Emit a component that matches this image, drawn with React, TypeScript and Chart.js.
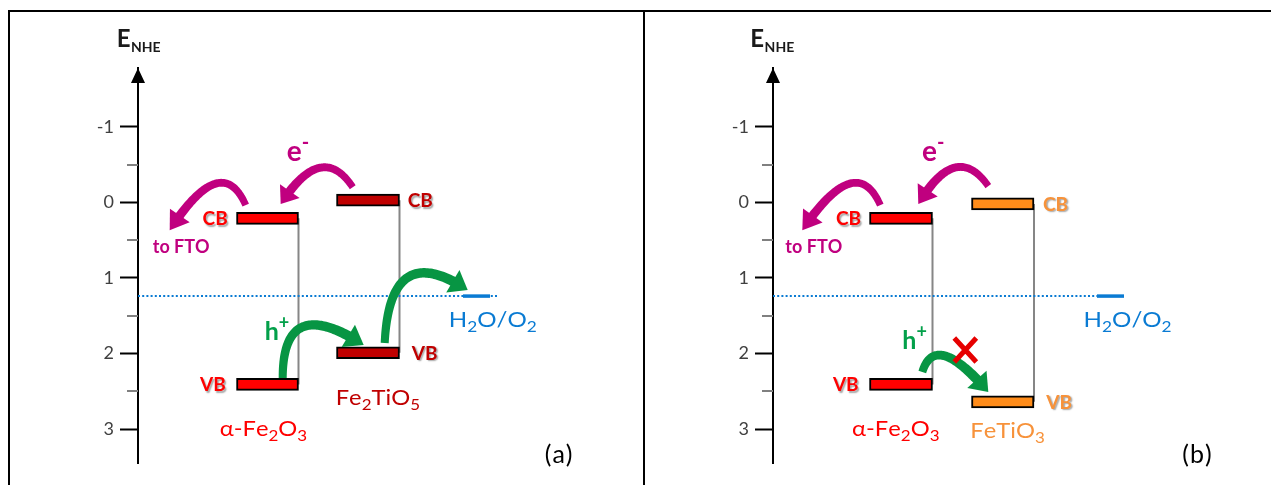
import React, { useEffect, useRef } from "react";
import { Chart, registerables } from "chart.js";
Chart.register(...registerables);

// ---------------- data (energy vs NHE, V; positive values plotted downward) ----------------
const tickValues = [-1, 0, 1, 2, 3];
const tickLabels = ["-1", "0", "1", "2", "3"];
const minorTickValues = [-0.5, 0.5, 1.5, 2.5];
const axisMin = -1.78;
const axisMax = 3.45;
const waterLevel = 1.24;
const waterLabel = "H2O/O2";

const materialsA = ["α-Fe2O3", "Fe2TiO5"];
const cbA = [0.21, -0.03];
const vbA = [2.41, 1.99];

const materialsB = ["α-Fe2O3", "FeTiO3"];
const cbB = [0.21, 0.02];
const vbB = [2.41, 2.64];

// ---------------- layout / style ----------------
const FONT = "Lato, 'Open Sans', sans-serif";
const AXIS_W = 128;
const CANVAS_H = 473;
const MAGENTA = "#c0007f";
const GREEN = "#079543";
const GREEN_TXT = "#03a04a";
const BLUE = "#0a7bd3";

type Pt = [number, number];
interface ArrowSpec { p0: Pt; c: Pt; p1: Pt; color: string; w0: number; w1: number; hl: number; hw: number; }
interface PanelLayout {
  left: number; width: number;
  materials: string[]; cb: number[]; vb: number[];
  cols: number[][]; fills: string[]; textColors: string[];
  cbLabelX: number[]; vbLabelX: number[];
  matLabels: Pt[];
  waterDots: number[]; waterSeg: number[]; waterText: Pt;
  toFTO: Pt; eLabel: Pt; hLabel: Pt; tag: string; tagPos: Pt; title: Pt;
  arrows: ArrowSpec[]; cross?: Pt;
}

const mag = (p0: Pt, c: Pt, p1: Pt): ArrowSpec => ({ p0, c, p1, color: MAGENTA, w0: 7, w1: 9, hl: 14, hw: 12 });
const grn = (p0: Pt, c: Pt, p1: Pt): ArrowSpec => ({ p0, c, p1, color: GREEN, w0: 8, w1: 10, hl: 15, hw: 13 });

const PANEL_A: PanelLayout = {
  left: 10, width: 633,
  materials: materialsA, cb: cbA, vb: vbA,
  cols: [[98.5, 160.5], [198.5, 261.5]],
  fills: ["#ff0000", "#c00000"], textColors: ["#ff0000", "#c00000"],
  cbLabelX: [89.7, 269.7], vbLabelX: [87.7, 273.7],
  matLabels: [[81.7, 3.092], [197.7, 2.682]],
  waterDots: [0, 359], waterSeg: [325, 352], waterText: [310.7, 1.65],
  toFTO: [14.7, 0.667], eLabel: [148.7, -0.55], hLabel: [126.7, 1.82],
  tag: "(a)", tagPos: [406.7, 3.45], title: [-21.3, -2.055],
  arrows: [
    mag([107.7, 0.036], [83.7, -0.692], [31.7, 0.367]),
    mag([214.7, -0.202], [183.7, -0.824], [142.7, 0.022]),
    grn([144.7, 2.325], [144.7, 1.187], [225.7, 1.888]),
    grn([246.7, 1.862], [251.7, 0.472], [329.7, 1.16]),
  ],
};

const PANEL_B: PanelLayout = {
  left: 645, width: 626,
  materials: materialsB, cb: cbB, vb: vbB,
  cols: [[96.5, 159.5], [198.5, 261]],
  fills: ["#ff0000", "#ff8c1a"], textColors: ["#ff0000", "#f7923a"],
  cbLabelX: [88, 270], vbLabelX: [85.6, 273.3],
  matLabels: [[79, 3.092], [197.3, 3.123]],
  waterDots: [0, 324], waterSeg: [324, 351], waterText: [310.6, 1.65],
  toFTO: [12.3, 0.667], eLabel: [149, -0.55], hLabel: [129.3, 1.94],
  tag: "(b)", tagPos: [409.3, 3.45], title: [-22.7, -2.055],
  arrows: [
    mag([107.3, 0.036], [83.3, -0.692], [29.3, 0.367]),
    mag([215.3, -0.216], [183.3, -0.824], [145.3, 0.022]),
    grn([149.3, 2.245], [162.3, 1.69], [215.3, 2.51]),
  ],
  cross: [192.3, 1.954],
};

// ---------------- drawing helpers ----------------
type Seg = { t: string; sub?: boolean; sup?: boolean };
function chemSegs(s: string): Seg[] {
  const out: Seg[] = [];
  for (const ch of s) {
    const sub = /[0-9]/.test(ch);
    const last = out[out.length - 1];
    if (last && !!last.sub === sub) last.t += ch;
    else out.push({ t: ch, sub });
  }
  return out;
}

function drawRich(
  ctx: CanvasRenderingContext2D, segs: Seg[], x: number, y: number, size: number, weight: string, color: string,
  align: "left" | "right" = "left", shadow = false, spacing = 0, stretch = 1,
) {
  const small = Math.round(size * 0.7);
  const fontOf = (s: Seg) => `${weight} ${s.sub || s.sup ? small : size}px ${FONT}`;
  const chars: { ch: string; seg: Seg; w: number }[] = [];
  segs.forEach((s) => {
    ctx.font = fontOf(s);
    for (const ch of s.t) chars.push({ ch, seg: s, w: ctx.measureText(ch).width });
  });
  const natural = chars.reduce((a, c) => a + c.w, 0) + spacing * Math.max(0, chars.length - 1);
  const total = natural * stretch;
  const x0 = align === "right" ? x - total : x;
  ctx.save();
  ctx.translate(x0, y);
  ctx.scale(stretch, 1);
  ctx.fillStyle = color;
  ctx.textBaseline = "alphabetic";
  ctx.textAlign = "left";
  if (shadow) {
    ctx.shadowColor = "rgba(0,0,0,0.35)";
    ctx.shadowOffsetX = 1.5; ctx.shadowOffsetY = 1.5; ctx.shadowBlur = 1.5;
  }
  let cx = 0;
  chars.forEach((c) => {
    ctx.font = fontOf(c.seg);
    const dy = c.seg.sub ? size * 0.22 : c.seg.sup ? -size * 0.42 : 0;
    ctx.fillText(c.ch, cx, dy);
    cx += c.w + spacing;
  });
  ctx.restore();
}

function drawCurvedArrow(ctx: CanvasRenderingContext2D, p0: number[], c: number[], p1: number[], a: ArrowSpec) {
  const N = 80;
  const pts: number[][] = [];
  for (let i = 0; i <= N; i++) {
    const t = i / N, u = 1 - t;
    pts.push([u * u * p0[0] + 2 * u * t * c[0] + t * t * p1[0], u * u * p0[1] + 2 * u * t * c[1] + t * t * p1[1]]);
  }
  const L = [0];
  for (let i = 1; i <= N; i++) L.push(L[i - 1] + Math.hypot(pts[i][0] - pts[i - 1][0], pts[i][1] - pts[i - 1][1]));
  const total = L[N];
  let k = N;
  while (k > 1 && total - L[k] < a.hl) k--;
  const left: number[][] = [], right: number[][] = [];
  for (let i = 0; i <= k; i++) {
    const a0 = pts[Math.max(0, i - 1)], a1 = pts[Math.min(N, i + 1)];
    let tx = a1[0] - a0[0], ty = a1[1] - a0[1];
    const m = Math.hypot(tx, ty) || 1; tx /= m; ty /= m;
    const w = a.w0 + (a.w1 - a.w0) * (L[i] / L[k]);
    left.push([pts[i][0] - ty * w / 2, pts[i][1] + tx * w / 2]);
    right.push([pts[i][0] + ty * w / 2, pts[i][1] - tx * w / 2]);
  }
  ctx.save();
  ctx.fillStyle = a.color;
  ctx.beginPath();
  ctx.moveTo(left[0][0], left[0][1]);
  left.forEach((p) => ctx.lineTo(p[0], p[1]));
  for (let i = right.length - 1; i >= 0; i--) ctx.lineTo(right[i][0], right[i][1]);
  ctx.closePath();
  ctx.fill();
  const base = pts[Math.max(0, k - 1)];
  let dx = p1[0] - base[0], dy = p1[1] - base[1];
  const m = Math.hypot(dx, dy) || 1; dx /= m; dy /= m;
  ctx.beginPath();
  ctx.moveTo(p1[0], p1[1]);
  ctx.lineTo(base[0] - dy * a.hw, base[1] + dx * a.hw);
  ctx.lineTo(base[0] + dy * a.hw, base[1] - dx * a.hw);
  ctx.closePath();
  ctx.fill();
  ctx.restore();
}

function makePlugin(P: PanelLayout) {
  return {
    id: "bandDiagram",
    afterDraw(chart: any) {
      const ctx: CanvasRenderingContext2D = chart.ctx;
      const xs = chart.scales.x, ys = chart.scales.y;
      const X = (v: number) => xs.getPixelForValue(v);
      const Y = (v: number) => ys.getPixelForValue(v);
      const area = chart.chartArea;
      const ax = area.left;

      // minor ticks
      ctx.save();
      ctx.strokeStyle = "#808080";
      ctx.lineWidth = 2;
      minorTickValues.forEach((v) => {
        const y = Math.round(Y(v));
        ctx.beginPath(); ctx.moveTo(ax - 11, y); ctx.lineTo(ax, y); ctx.stroke();
      });
      // arrow head of axis
      ctx.fillStyle = "#000";
      ctx.beginPath();
      ctx.moveTo(ax, area.top);
      ctx.lineTo(ax - 7, area.top + 15);
      ctx.lineTo(ax + 7, area.top + 15);
      ctx.closePath();
      ctx.fill();
      ctx.restore();

      // title E_NHE
      const tx = X(P.title[0]), ty = Y(P.title[1]);
      ctx.save();
      ctx.fillStyle = "#1a1a1a";
      ctx.font = `bold 24px ${FONT}`;
      ctx.textBaseline = "alphabetic";
      ctx.fillText("E", tx, ty);
      const ew = ctx.measureText("E").width;
      ctx.font = `bold 14px ${FONT}`;
      ctx.fillText("NHE", tx + ew + 0.5, ty + 5);
      ctx.restore();

      // arrows
      P.arrows.forEach((a) => {
        drawCurvedArrow(ctx, [X(a.p0[0]), Y(a.p0[1])], [X(a.c[0]), Y(a.c[1])], [X(a.p1[0]), Y(a.p1[1])], a);
      });
      if (P.cross) {
        const cx = X(P.cross[0]), cy = Y(P.cross[1]);
        ctx.save();
        ctx.strokeStyle = "#e60000";
        ctx.lineWidth = 5;
        ctx.beginPath();
        ctx.moveTo(cx - 11, cy - 12); ctx.lineTo(cx + 11, cy + 12);
        ctx.moveTo(cx - 11, cy + 12); ctx.lineTo(cx + 11, cy - 12);
        ctx.stroke();
        ctx.restore();
      }

      // band labels
      P.materials.forEach((m, i) => {
        const col = P.textColors[i];
        const align = i === 0 ? "right" : "left";
        drawRich(ctx, [{ t: "CB" }], X(P.cbLabelX[i]), Y(P.cb[i]) + 7, 19, "bold", col, align, true);
        drawRich(ctx, [{ t: "VB" }], X(P.vbLabelX[i]), Y(P.vb[i]) + 7, 19, "bold", col, align, true);
        drawRich(ctx, chemSegs(m), X(P.matLabels[i][0]), Y(P.matLabels[i][1]), 21, "normal", col, "left", false, 0, 1.13);
      });

      drawRich(ctx, chemSegs(waterLabel), X(P.waterText[0]), Y(P.waterText[1]), 21, "normal", BLUE, "left", false, 0, 1.15);
      drawRich(ctx, [{ t: "to FTO" }], X(P.toFTO[0]), Y(P.toFTO[1]), 18, "bold", MAGENTA);
      drawRich(ctx, [{ t: "e" }, { t: "-", sup: true }], X(P.eLabel[0]), Y(P.eLabel[1]), 28, "bold", MAGENTA);
      drawRich(ctx, [{ t: "h" }, { t: "+", sup: true }], X(P.hLabel[0]), Y(P.hLabel[1]), 25, "bold", GREEN_TXT);
      drawRich(ctx, [{ t: P.tag }], X(P.tagPos[0]), Y(P.tagPos[1]), 25, "normal", "#000", "left", false, 1);
    },
  };
}

function buildConfig(P: PanelLayout): any {
  const bandData: any[] = [];
  const bandColors: string[] = [];
  P.materials.forEach((_, i) => {
    bandData.push({ x: [P.cols[i][0], P.cols[i][1]], y: P.cb[i] });
    bandData.push({ x: [P.cols[i][0], P.cols[i][1]], y: P.vb[i] });
    bandColors.push(P.fills[i], P.fills[i]);
  });
  const connectors = P.materials.map((_, i) => ({
    type: "line",
    data: [{ x: P.cols[i][1], y: P.cb[i] }, { x: P.cols[i][1], y: P.vb[i] }],
    borderColor: "#868686", borderWidth: 2, pointRadius: 0, order: 5,
  }));
  return {
    type: "bar",
    data: {
      datasets: [
        ...connectors,
        {
          type: "line",
          data: [{ x: P.waterDots[0], y: waterLevel }, { x: P.waterDots[1], y: waterLevel }],
          borderColor: BLUE, borderWidth: 2, borderDash: [2, 2.2], pointRadius: 0, order: 4,
        },
        {
          type: "line",
          data: [{ x: P.waterSeg[0], y: waterLevel }, { x: P.waterSeg[1], y: waterLevel }],
          borderColor: BLUE, borderWidth: 3.5, pointRadius: 0, order: 3,
        },
        {
          type: "bar",
          indexAxis: "y",
          data: bandData,
          backgroundColor: bandColors,
          borderColor: "#000",
          borderWidth: 2,
          borderSkipped: false,
          barThickness: 12,
          order: 1,
        },
      ],
    },
    options: {
      responsive: false,
      animation: false,
      devicePixelRatio: 1,
      layout: { padding: { top: 56, bottom: 22, left: 0, right: 0 } },
      plugins: { legend: { display: false }, tooltip: { enabled: false } },
      scales: {
        x: { type: "linear", display: false, offset: false, grid: { offset: false }, min: 0, max: P.width - AXIS_W },
        y: {
          type: "linear",
          reverse: true,
          offset: false,
          min: axisMin,
          max: axisMax,
          afterBuildTicks: (s: any) => { s.ticks = tickValues.map((v) => ({ value: v })); },
          afterFit: (s: any) => { s.width = AXIS_W; },
          ticks: {
            color: "#404040",
            font: { family: FONT, size: 18 },
            padding: 6,
            callback: (v: number) => tickLabels[tickValues.indexOf(v)] ?? "",
          },
          grid: { offset: false, drawOnChartArea: false, drawTicks: true, tickLength: 18, tickColor: "#000", tickWidth: 2 },
          border: { display: true, color: "#000", width: 2 },
        },
      },
    },
    plugins: [makePlugin(P)],
  };
}

function Panel({ P }: { P: PanelLayout }) {
  const ref = useRef<HTMLCanvasElement | null>(null);
  useEffect(() => {
    if (!ref.current) return;
    const chart = new Chart(ref.current, buildConfig(P));
    return () => chart.destroy();
  }, [P]);
  return (
    <canvas
      ref={ref}
      width={P.width}
      height={CANVAS_H}
      style={{ position: "absolute", left: P.left, top: 12, width: P.width, height: CANVAS_H }}
    />
  );
}

export default function App() {
  return (
    <div style={{ position: "absolute", left: 0, top: 0, width: 1271, height: 485, background: "#fff", overflow: "hidden" }}>
      <div style={{ position: "absolute", left: 8, top: 10, width: 1263, height: 2, background: "#000" }} />
      <div style={{ position: "absolute", left: 8, top: 10, width: 2, height: 475, background: "#000" }} />
      <div style={{ position: "absolute", left: 643, top: 10, width: 2, height: 475, background: "#000" }} />
      <Panel P={PANEL_A} />
      <Panel P={PANEL_B} />
    </div>
  );
}
